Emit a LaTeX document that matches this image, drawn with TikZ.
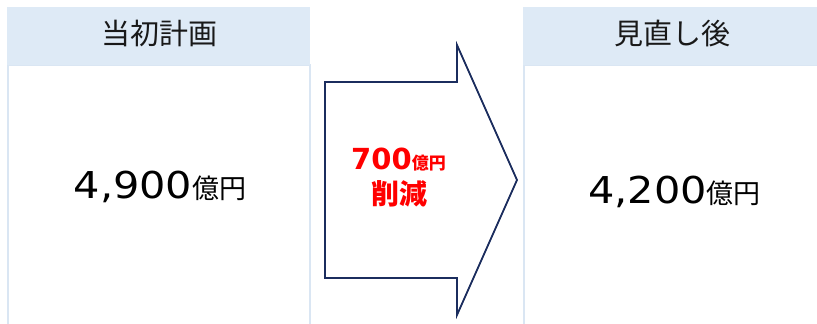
\documentclass[tikz,border=0pt]{standalone}
\usepackage{fontspec}
\setmainfont{Noto Sans CJK JP}
\newfontfamily\numfont{DejaVu Sans}
\definecolor{hdrfill}{HTML}{DEEAF6}
\definecolor{bodyline}{HTML}{DAE6F3}
\definecolor{arrowcol}{HTML}{1B2D5E}
\definecolor{redtxt}{HTML}{FF0000}
\tikzset{
  hdr/.style={fill=hdrfill, draw=none, inner sep=0pt, anchor=north west},
  bodybox/.style={draw=bodyline, line width=1.5pt},
  hdrtxt/.style={inner sep=0pt, font=\fontsize{29}{29}\selectfont, text=black!90},
  bigtxt/.style={inner sep=0pt, anchor=base, text=black},
  redlbl/.style={inner sep=0pt, anchor=base, text=redtxt, font=\bfseries},
  arrowline/.style={draw=arrowcol, line width=1.8pt, fill=white, line join=miter}
}
\begin{document}
\begin{tikzpicture}[x=1pt,y=-1pt]
\useasboundingbox (0,0) rectangle (817,324);
% left table
\draw[bodybox] (8,65) rectangle (310,340);
\node[hdr, minimum width=303pt, minimum height=58pt] (lh) at (7,7) {};
\node[hdrtxt] (lht) at (159.5,33) {当初計画};
\node[bigtxt] (lv) at (160,198) {{\numfont\fontsize{37}{37}\selectfont\scalebox{1.12}[1]{4,900}}{\fontsize{27}{27}\selectfont 億円}};
% right table
\draw[bodybox] (524,65) rectangle (830,340);
\node[hdr, minimum width=295pt, minimum height=58pt] (rh) at (523,7) {};
\node[hdrtxt] (rht) at (672.5,33) {見直し後};
\node[bigtxt] (rv) at (674.5,203) {{\numfont\fontsize{37}{37}\selectfont\scalebox{1.12}[1]{4,200}}{\fontsize{27}{27}\selectfont 億円}};
% arrow
\draw[arrowline] (325,82) -- (457,82) -- (457,45) -- (517,180) -- (457,315) -- (457,278) -- (325,278) -- cycle;
\node[redlbl] (r1) at (398.5,169) {{\numfont\bfseries\fontsize{29}{29}\selectfont 700}{\fontsize{17}{17}\selectfont 億円}};
\node[redlbl] (r2) at (399,204) {\fontsize{28}{28}\selectfont 削減};
\end{tikzpicture}
\end{document}
